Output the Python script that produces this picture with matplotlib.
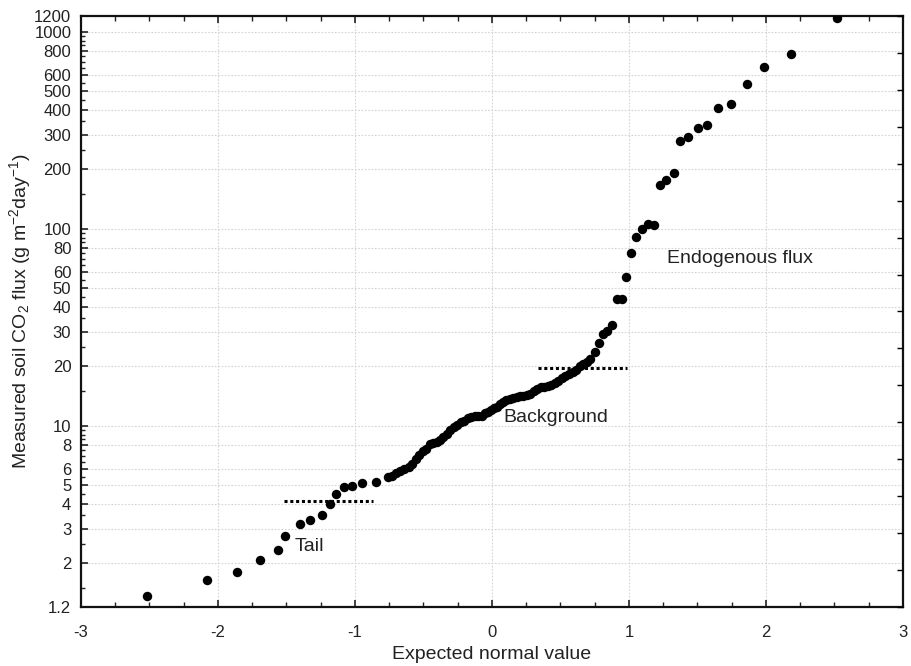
import numpy as np
import matplotlib
matplotlib.use("Agg")
import matplotlib.pyplot as plt
from matplotlib.ticker import FixedLocator, NullFormatter

plt.rcParams['font.family'] = ['Liberation Sans', 'DejaVu Sans']
plt.rcParams['mathtext.fontset'] = 'custom'
plt.rcParams['mathtext.rm'] = 'Liberation Sans'
plt.rcParams['mathtext.it'] = 'Liberation Sans:italic'

# ---- data ----
expected_normal = [
    -2.520, -2.078, -1.861, -1.696, -1.564, -1.509, -1.404, -1.331, -1.243, -1.182,
    -1.136, -1.078, -1.020, -0.947, -0.847, -0.757,
    -0.730, -0.697, -0.668, -0.639, -0.609, -0.584, -0.558, -0.533, -0.507, -0.482,
    -0.456, -0.431, -0.405, -0.380, -0.354, -0.328, -0.303, -0.277, -0.252, -0.226,
    -0.201, -0.175, -0.150, -0.124, -0.099, -0.073, -0.051, -0.029, -0.007, 0.015,
    0.036, 0.058, 0.080, 0.102, 0.128, 0.153, 0.179, 0.204, 0.230, 0.255,
    0.281, 0.307, 0.332, 0.358, 0.383, 0.409, 0.434, 0.460, 0.485, 0.511,
    0.536, 0.562, 0.588, 0.613, 0.639, 0.664, 0.691, 0.719, 0.752, 0.783,
    0.810, 0.839, 0.874, 0.912, 0.947, 0.978, 1.017, 1.049, 1.093, 1.136,
    1.182, 1.226, 1.270, 1.328, 1.372, 1.433, 1.506, 1.566, 1.650, 1.742,
    1.859, 1.988, 2.180, 2.516,
]
co2_flux = [
    1.37, 1.65, 1.81, 2.09, 2.34, 2.76, 3.18, 3.33, 3.51, 4.01,
    4.51, 4.86, 4.95, 5.10, 5.19, 5.46,
    5.58, 5.72, 5.87, 6.02, 6.19, 6.42, 6.73, 7.09, 7.39, 7.65,
    8.06, 8.16, 8.23, 8.45, 8.75, 9.06, 9.50, 9.84, 10.07, 10.37,
    10.59, 10.87, 11.06, 11.19, 11.19, 11.25, 11.55, 11.75, 11.93, 12.24,
    12.43, 12.83, 13.10, 13.41, 13.68, 13.84, 13.92, 14.05, 14.21, 14.30,
    14.55, 14.99, 15.29, 15.61, 15.76, 15.94, 16.07, 16.39, 16.84, 17.38,
    17.76, 18.22, 18.72, 19.23, 19.96, 20.66, 21.11, 21.78, 23.75, 26.2,
    29.17, 30.1, 32.4, 43.9, 43.9, 56.8, 75.4, 90.7, 99.5, 105.1,
    104.8, 167.0, 175.5, 192.3, 279.4, 292.8, 323.0, 336.8, 408.0, 427.7,
    540.0, 663.0, 767.0, 1168.0,
]

y_tick_values = [1.2, 2, 3, 4, 5, 6, 8, 10, 20, 30, 40, 50, 60, 80, 100,
                 200, 300, 400, 500, 600, 800, 1000, 1200]
y_tick_labels = ['1.2', '2', '3', '4', '5', '6', '8', '10', '20', '30', '40', '50',
                 '60', '80', '100', '200', '300', '400', '500', '600', '800', '1000', '1200']
x_tick_values = [-3, -2, -1, 0, 1, 2, 3]

tail_line_x = [-1.52, -0.87]
tail_line_y = 4.15
background_line_x = [0.335, 0.985]
background_line_y = 19.6

annotations = [("Tail", -1.44, 2.42), ("Background", 0.08, 11.05),
               ("Endogenous flux", 1.277, 70.9)]

# ---- figure ----
fig = plt.figure(figsize=(9.11, 6.66), dpi=100)
ax = fig.add_axes([0.0889, 0.0886, 0.9023, 0.8874])

ax.set_yscale('log')
ax.set_xlim(-3, 3)
ax.set_ylim(1.2, 1200)

# grid
grid_kw = dict(color='#d4d4d4', linestyle=(0, (1.5, 1.5)), linewidth=0.8, zorder=0)
for yv in y_tick_values[1:-1]:
    ax.axhline(yv, **grid_kw)
for xv in x_tick_values[1:-1]:
    ax.axvline(xv, **grid_kw)

# data points
ax.plot(expected_normal, co2_flux, linestyle='none', marker='o', markersize=6.8,
        color='black', markeredgewidth=0, zorder=3)

# dotted segment lines
ax.plot(tail_line_x, [tail_line_y] * 2, color='black', linewidth=2.2,
        linestyle=(0, (1.0, 0.9)), zorder=4)
ax.plot(background_line_x, [background_line_y] * 2, color='black', linewidth=2.2,
        linestyle=(0, (1.0, 0.9)), zorder=4)

for txt, xx, yy in annotations:
    ax.text(xx, yy, txt, fontsize=14, color='#222222', ha='left', va='center', zorder=5)

# ticks
ax.yaxis.set_major_locator(FixedLocator(y_tick_values))
ax.set_yticklabels(y_tick_labels)
minor_y = []
for d in (1, 10, 100):
    for m in np.arange(1.0, 10.0, 0.5):
        v = d * m
        if 1.2 < v < 1200 and not any(abs(v - t) < 1e-9 for t in y_tick_values):
            minor_y.append(v)
ax.yaxis.set_minor_locator(FixedLocator(minor_y))
ax.yaxis.set_minor_formatter(NullFormatter())

ax.xaxis.set_major_locator(FixedLocator(x_tick_values))
ax.set_xticklabels([str(v) for v in x_tick_values])
ax.xaxis.set_minor_locator(FixedLocator(np.arange(-3, 3.01, 0.25)))

ax.tick_params(axis='x', which='both', direction='in', top=True, bottom=True,
               labelsize=12, pad=13, colors='#222222')
ax.tick_params(axis='x', which='major', length=5, width=1.2)
ax.tick_params(axis='x', which='minor', length=3.5, width=1.0)
ax.tick_params(axis='y', which='both', direction='in', left=True, right=False,
               labelsize=12, pad=7, colors='#222222')
ax.tick_params(axis='y', which='major', length=5, width=1.2)
ax.tick_params(axis='y', which='minor', length=3, width=1.0)

for sp in ax.spines.values():
    sp.set_linewidth(1.6)
    sp.set_color('#111111')

# right-side evenly spaced ticks
ax2 = ax.twinx()
ax2.set_ylim(0, 16)
ax2.set_yticks(range(17))
ax2.tick_params(axis='y', direction='in', length=4, width=1.0, labelright=False,
                right=True)
for sp in ax2.spines.values():
    sp.set_visible(False)

ax.set_xlabel('Expected normal value', fontsize=14, color='#222222', labelpad=4)
ax.set_ylabel('Measured soil CO$_2$ flux (g m$^{-2}$day$^{-1}$)', fontsize=14,
              color='#222222')
ax.yaxis.set_label_coords(-0.058, 0.5)

fig.savefig('out.png', dpi=100)
